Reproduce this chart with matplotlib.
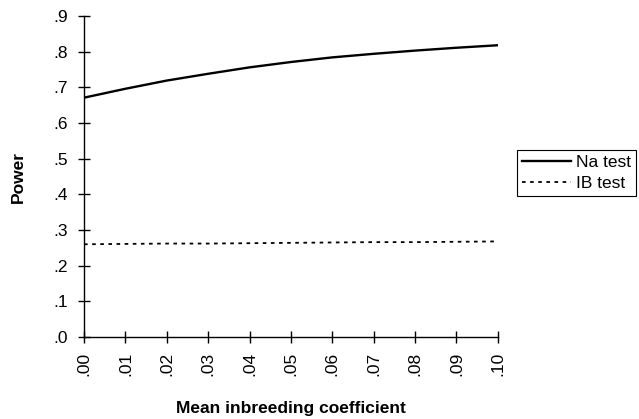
import matplotlib.pyplot as plt
from matplotlib.ticker import FuncFormatter

plt.rcParams['font.family'] = ['Liberation Sans', 'DejaVu Sans']

inbreeding = [0.00, 0.01, 0.02, 0.03, 0.04, 0.05, 0.06, 0.07, 0.08, 0.09, 0.10]
power_na = [0.671, 0.696, 0.719, 0.738, 0.756, 0.771, 0.784, 0.794, 0.803, 0.811, 0.818]
power_ib = [0.260, 0.261, 0.262, 0.262, 0.263, 0.264, 0.265, 0.266, 0.266, 0.267, 0.268]


def no_lead_zero(v, _pos, digits):
    s = f"{v:.{digits}f}"
    return s[1:] if s.startswith("0") else s


fig = plt.figure(figsize=(6.39, 4.19), dpi=100)
ax = fig.add_axes([0.1315, 0.1957, 0.6475, 0.7661])

ax.plot(inbreeding, power_na, color='black', lw=1.7, label='Na test')
ax.plot(inbreeding, power_ib, color='black', lw=1.3, ls=(0, (2, 2.5)), label='IB test')

ax.set_xlim(0, 0.10)
ax.set_ylim(0, 0.9)
ax.set_xticks(inbreeding)
ax.set_yticks([i / 10 for i in range(10)])
ax.xaxis.set_major_formatter(FuncFormatter(lambda v, p: no_lead_zero(v, p, 2)))
ax.yaxis.set_major_formatter(FuncFormatter(lambda v, p: no_lead_zero(v, p, 1)))

for side in ('top', 'right'):
    ax.spines[side].set_visible(False)
for side in ('left', 'bottom'):
    ax.spines[side].set_linewidth(1.0)

ax.tick_params(axis='both', direction='inout', length=9, width=1.0, labelsize=12.5, colors='black')
ax.tick_params(axis='x', labelrotation=90, pad=6)
ax.tick_params(axis='y', pad=7)

ax.set_xlabel('Mean inbreeding coefficient', fontsize=12.5, fontweight='bold', labelpad=18)
ax.set_ylabel('Power', fontsize=12.5, fontweight='bold', labelpad=20)

leg = fig.legend(loc='upper left', bbox_to_anchor=(0.809, 0.642), fontsize=12.5,
                 frameon=True, fancybox=False, edgecolor='black', framealpha=1,
                 handlelength=2.8, handletextpad=0.3, borderpad=0.3, labelspacing=0.3,
                 borderaxespad=0)
leg.get_frame().set_linewidth(0.8)

fig.savefig('out.png', dpi=100)
